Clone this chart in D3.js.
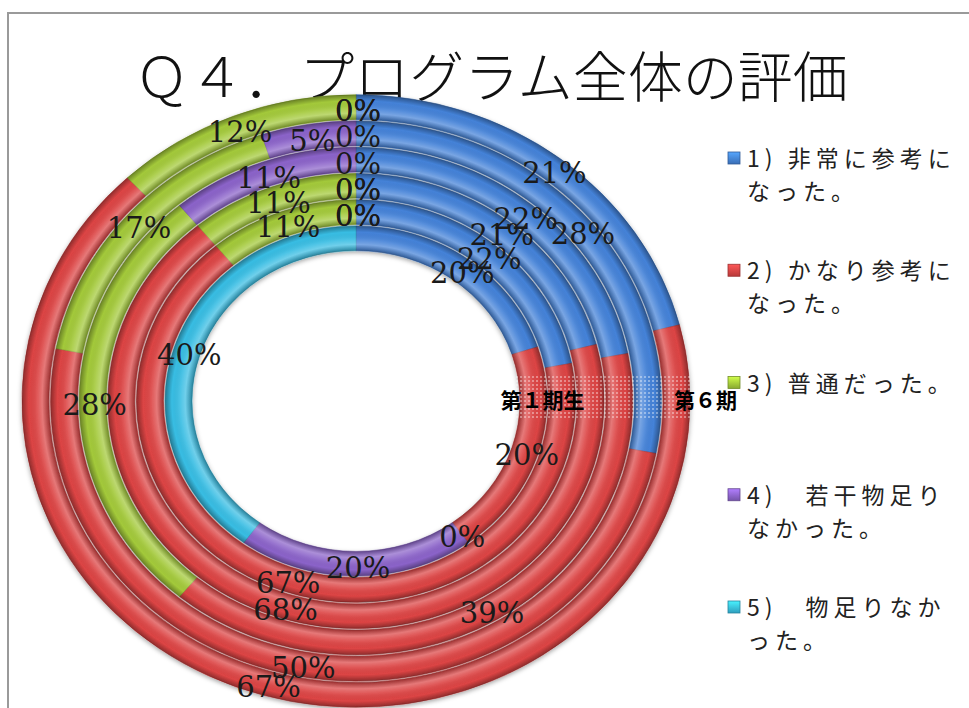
<!DOCTYPE html>
<html><head>
<meta charset="utf-8">
<title>Q4 プログラム全体の評価</title>
<script src="https://d3js.org/d3.v7.min.js"></script>
<style>
  body { margin: 0; background: #fff; }
  text.pct { font-family: "DejaVu Serif", serif; font-size: 29px; fill: #1a1a1a; text-anchor: middle; }
  text.legend { font-family: "Noto Sans CJK JP", sans-serif; font-size: 23px; fill: #222; letter-spacing: 5px; }
  text.ring { font-family: "Noto Sans CJK JP", sans-serif; font-size: 21px; font-weight: 700; fill: #000; }
</style>
</head>
<body>
<svg id="chart" width="969" height="708"></svg>
<script>
// rings from inside (first cohort) to outside (sixth cohort)
const rings = ["第１期生", "第２期", "第３期", "第４期", "第５期", "第６期"];
const ringLabels = ["第１期生", "", "", "", "", "第６期"];

const categories = [
  "1) 非常に参考に\nなった。",
  "2) かなり参考に\nなった。",
  "3) 普通だった。",
  "4)　若干物足り\nなかった。",
  "5)　物足りなか\nった。"
];
const colors = ["#4482d8", "#dc4444", "#a3c93a", "#8b63c9", "#38bde3"];

// percentages per ring (inner -> outer)
const veryUseful      = [20, 22, 21, 22, 28, 21];
const quiteUseful     = [20, 67, 68, 39, 50, 67];
const average         = [0, 11, 11, 28, 17, 12];
const slightlyLacking = [20, 0, 0, 11, 5, 0];
const lacking         = [40, 0, 0, 0, 0, 0];
const series = [veryUseful, quiteUseful, average, slightlyLacking, lacking];

const svg = d3.select("#chart");
const cx = 356, cy = 401, squash = 0.917;   // chart is tilted, so circles become ellipses

const defs = svg.append("defs");

// frame
svg.append("rect").attr("x", 8).attr("y", 13).attr("width", 1000).attr("height", 760)
   .attr("fill", "none").attr("stroke", "#9a9a9a").attr("stroke-width", 2);

// title
svg.append("text")
   .attr("x", 491).attr("y", 97)
   .attr("text-anchor", "middle")
   .style("font-family", '"Noto Sans CJK JP", sans-serif')
   .style("font-size", "55px")
   .style("font-weight", 300)
   .attr("fill", "#111")
   .text("Ｑ４．プログラム全体の評価");

// radius of each ring
const r = d3.scaleBand().domain(rings).range([164, 334]).paddingInner(0.06);
const pie = d3.pie().sort(null).value(d => d.v);
const arc = d3.arc();

// tube shading: one radial gradient with stops for every ring
const outerR = 334;
const tube = defs.append("radialGradient").attr("id", "tube")
   .attr("gradientUnits", "userSpaceOnUse").attr("cx", 0).attr("cy", 0).attr("r", outerR);
rings.forEach(ring => {
  const a = r(ring), w = r.bandwidth();
  [[0, "#000", 0.30], [0.25, "#fff", 0.28], [0.45, "#fff", 0.10], [0.75, "#000", 0.0], [1, "#000", 0.35]]
    .forEach(([t, c, o]) => tube.append("stop")
      .attr("offset", (a + t * w) / outerR).attr("stop-color", c).attr("stop-opacity", o));
});

const shadow = defs.append("filter").attr("id", "shadow")
   .attr("x", "-10%").attr("y", "-10%").attr("width", "120%").attr("height", "120%");
shadow.append("feDropShadow").attr("dx", 0).attr("dy", 2).attr("stdDeviation", 2.5)
   .attr("flood-color", "#000").attr("flood-opacity", 0.35);

const layer = svg.append("g")
   .attr("transform", `translate(${cx},${cy}) scale(1,${squash})`)
   .attr("filter", "url(#shadow)");

const labelData = [];
rings.forEach((ring, i) => {
  const inner = r(ring), outer = r(ring) + r.bandwidth();
  const slices = pie(series.map((s, k) => ({ v: s[i], k: k })));
  slices.forEach(d => { d.innerRadius = inner; d.outerRadius = outer; labelData.push(d); });

  layer.append("g").selectAll("path")
     .data(slices.filter(d => d.data.v > 0))
     .join("path")
     .attr("d", arc)
     .attr("fill", d => colors[d.data.k])
     .attr("stroke", d => d3.color(colors[d.data.k]).darker(0.6))
     .attr("stroke-width", 0.6);

  layer.append("path")
     .attr("d", arc({ innerRadius: inner, outerRadius: outer, startAngle: 0, endAngle: 2 * Math.PI }))
     .attr("fill", "url(#tube)");
});

// dotted texture behind the ring names
const dots = defs.append("pattern").attr("id", "dots")
   .attr("patternUnits", "userSpaceOnUse").attr("width", 4).attr("height", 4);
dots.append("circle").attr("cx", 1).attr("cy", 1).attr("r", 0.8).attr("fill", "#fff").attr("opacity", 0.85);
svg.append("rect").attr("x", 515).attr("y", 375).attr("width", 175).attr("height", 45)
   .attr("fill", "url(#dots)");

// ring names
const nameOffset = [9, 0, 0, 0, 0, 29];
svg.selectAll("text.ring").data(rings.filter((d, i) => ringLabels[i]))
   .join("text")
   .attr("class", "ring")
   .attr("x", d => cx + r(d) + r.bandwidth() / 2 + nameOffset[rings.indexOf(d)])
   .attr("y", cy + 7)
   .attr("text-anchor", "middle")
   .text(d => ringLabels[rings.indexOf(d)]);

// percentage labels
svg.selectAll("text.pct").data(labelData)
   .join("text")
   .attr("class", "pct")
   .attr("x", d => cx + 2 + arc.centroid(d)[0])
   .attr("y", d => cy + arc.centroid(d)[1] * squash + 14)
   .text(d => d.data.v + "%");

// legend
const ly = d3.scalePoint().domain(categories).range([158, 607]);
const legend = svg.append("g").selectAll("g").data(categories).join("g")
   .attr("transform", d => `translate(728,${ly(d)})`);

colors.forEach((c, k) => {
  const g = defs.append("linearGradient").attr("id", "mk" + k)
     .attr("x1", 0).attr("y1", 0).attr("x2", 0).attr("y2", 1);
  g.append("stop").attr("offset", 0).attr("stop-color", d3.color(c).brighter(0.7));
  g.append("stop").attr("offset", 1).attr("stop-color", d3.color(c).darker(0.5));
});

legend.append("rect")
   .attr("x", 0).attr("y", -6).attr("width", 12).attr("height", 12)
   .attr("fill", (d, k) => `url(#mk${k})`)
   .attr("stroke", (d, k) => d3.color(colors[k]).darker(1)).attr("stroke-width", 0.8);

legend.each(function(d) {
  d3.select(this).selectAll("text").data(d.split("\n")).join("text")
     .attr("class", "legend")
     .attr("x", 19)
     .attr("y", (t, j) => 9 + j * 33)
     .text(t => t);
});
</script>
</body>
</html>
